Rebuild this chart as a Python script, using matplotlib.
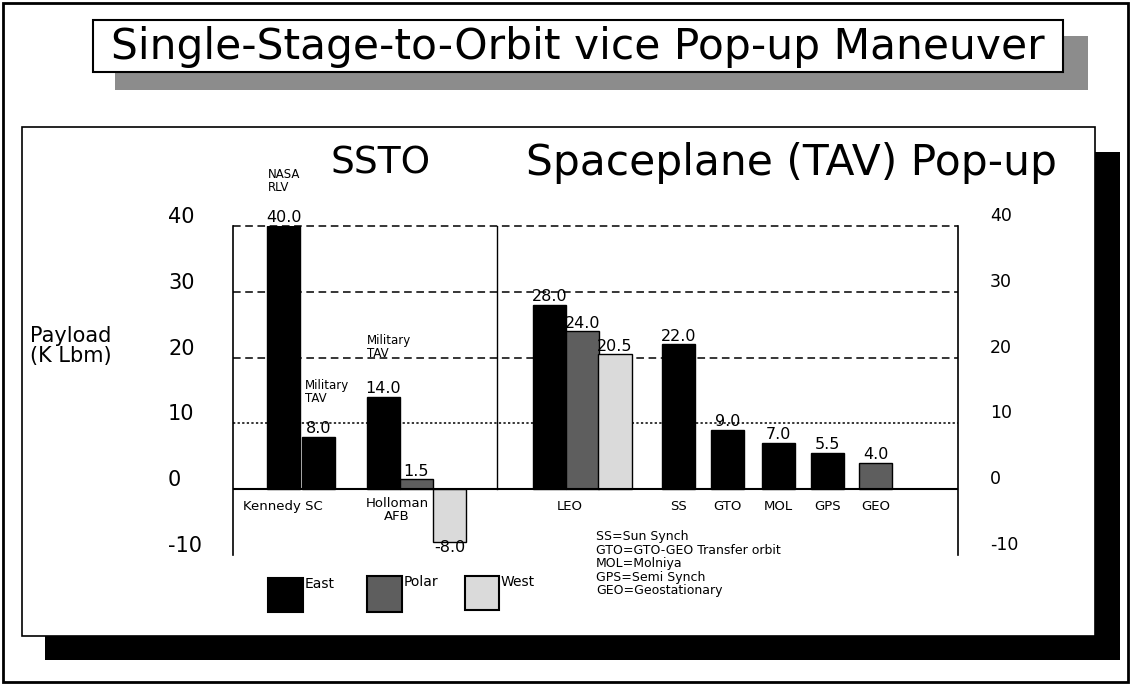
import matplotlib
matplotlib.use("Agg")
import matplotlib.pyplot as plt
from matplotlib.patches import Rectangle
from matplotlib.transforms import offset_copy

plt.rcParams['font.family'] = ['DejaVu Sans']

# Data (K Lbm payload)
series_names = ['East', 'Polar', 'West']
series_colors = {'East': '#000000', 'Polar': '#5e5e5e', 'West': '#dadada'}

kennedy_series = ['East', 'East']          # NASA RLV, Military TAV
kennedy_payload = [40.0, 8.0]
holloman_series = ['East', 'Polar', 'West']
holloman_payload = [14.0, 1.5, -8.0]
leo_series = ['East', 'Polar', 'West']
leo_payload = [28.0, 24.0, 20.5]
orbits = ['SS', 'GTO', 'MOL', 'GPS', 'GEO']
orbit_series = ['East', 'East', 'East', 'East', 'Polar']
orbit_payload = [22.0, 9.0, 7.0, 5.5, 4.0]

y_ticks = [40, 30, 20, 10, 0, -10]
footnote = ["SS=Sun Synch", "GTO=GTO-GEO Transfer orbit", "MOL=Molniya",
            "GPS=Semi Synch", "GEO=Geostationary"]

# layout (bar left edges in slot units)
kennedy_x = [1.02, 2.07]
holloman_x = [4.02, 5.0, 6.0]
leo_x = [9.0, 10.0, 10.97]
orbit_x = [12.88, 14.35, 15.89, 17.36, 18.8]
bar_w = 1.0

W, H = 1132, 685
fig = plt.figure(figsize=(W / 100, H / 100), dpi=100)

# background / decoration axes in pixel coords
bg = fig.add_axes([0, 0, 1, 1], zorder=0)
bg.set_xlim(0, W)
bg.set_ylim(H, 0)
bg.axis('off')

bg.add_patch(Rectangle((3, 3), 1125, 679, fill=False, ec='black', lw=2))
# title box with shadow
bg.add_patch(Rectangle((115, 36), 973, 54, fc='#8c8c8c', ec='none'))
bg.add_patch(Rectangle((93, 20), 970, 52, fc='white', ec='black', lw=1.5))
bg.text(578, 47, 'Single-Stage-to-Orbit vice Pop-up Maneuver',
        fontsize=30.5, ha='center', va='center')
# main panel with shadow
bg.add_patch(Rectangle((45, 152), 1075, 508, fc='black', ec='none'))
bg.add_patch(Rectangle((22, 127), 1073, 509, fc='white', ec='black', lw=1.2))

bg.text(381, 163, 'SSTO', fontsize=27, ha='center', va='center')
bg.text(791, 163, 'Spaceplane (TAV) Pop-up', fontsize=30.5, ha='center',
        va='center')
bg.text(30, 346, 'Payload\n(K Lbm)', fontsize=15, ha='left', va='center',
        linespacing=0.95)

bg.text(596, 530, '\n'.join(footnote), fontsize=9, ha='left', va='top',
        linespacing=1.05)

# legend squares
leg_boxes = {'East': (268, 578, 35, 34), 'Polar': (367, 576, 35, 36),
             'West': (465, 576, 34, 34)}
for name in series_names:
    x0, y0, w, h = leg_boxes[name]
    bg.add_patch(Rectangle((x0, y0), w, h, fc=series_colors[name],
                           ec='black', lw=1.5))
    bg.text(x0 + w + 2, y0 + 6, name, fontsize=10, ha='left', va='center')

# main chart axes
ax = fig.add_axes([233 / W, 1 - 555 / H, (958 - 233) / W, (555 - 226) / H],
                  zorder=1)
ax.set_facecolor('none')
ax.set_xlim(0, (958 - 233) / 33.3)
ax.set_ylim(-10, 40)
for s in ['top', 'bottom']:
    ax.spines[s].set_visible(False)
for s in ['left', 'right']:
    ax.spines[s].set_linewidth(1.2)
ax.set_xticks([])
ax.set_yticks([])

for v in [40, 30, 20]:
    ax.axhline(v, color='black', lw=1.1, ls=(0, (5, 3)), zorder=1,
               clip_on=False)
ax.axhline(10, color='black', lw=1.1, ls=(0, (1.5, 1.5)), zorder=1)
ax.axhline(0, color='black', lw=1.5, zorder=3)
ax.plot([7.93, 7.93], [0, 40], color='black', lw=1.0, zorder=1)


def draw_bars(xs, vals, series):
    for x, v, s in zip(xs, vals, series):
        ax.bar(x, v, width=bar_w, align='edge', color=series_colors[s],
               edgecolor='black', lw=1.0, zorder=2)
        lbl = f'{v:.1f}'
        if v >= 0:
            ax.text(x + bar_w / 2, v + 0.1, lbl, ha='center', va='bottom',
                    fontsize=11.5, zorder=4)
        else:
            ax.text(x + bar_w / 2, v + 0.3, lbl, ha='center', va='top',
                    fontsize=11.5, zorder=4)


draw_bars(kennedy_x, kennedy_payload, kennedy_series)
draw_bars(holloman_x, holloman_payload, holloman_series)
draw_bars(leo_x, leo_payload, leo_series)
draw_bars(orbit_x, orbit_payload, orbit_series)

# category labels
ax.text(1.5, -1.6, 'Kennedy SC', fontsize=9.5, ha='center', va='top')
ax.text(4.92, -1.2, 'Holloman\nAFB', fontsize=9.5, ha='center', va='top',
        linespacing=0.95)
ax.text(10.1, -1.6, 'LEO', fontsize=9.5, ha='center', va='top')
for x, name in zip(orbit_x, orbits):
    ax.text(x + bar_w / 2, -1.6, name, fontsize=9.5, ha='center', va='top')

# annotations
ax.text(1.05, 46.8, 'NASA\nRLV', fontsize=8.5, ha='left', va='center',
        linespacing=1.0, clip_on=False)
ax.text(2.16, 14.8, 'Military\nTAV', fontsize=8.5, ha='left', va='center',
        linespacing=0.95)
ax.text(4.02, 21.6, 'Military\nTAV', fontsize=8.5, ha='left', va='center',
        linespacing=0.95)

# y tick labels, drawn slightly above their grid lines as in the source
left_tr = offset_copy(ax.get_yaxis_transform(), fig=fig, x=-65, y=9, units='dots')
right_tr = offset_copy(ax.get_yaxis_transform(), fig=fig, x=32, y=10, units='dots')
for v in y_ticks:
    ax.text(0, v, str(v), transform=left_tr, fontsize=15, ha='left',
            va='center', clip_on=False)
    ax.text(1, v, str(v), transform=right_tr, fontsize=12.5, ha='left',
            va='center', clip_on=False)

fig.savefig('out.png', dpi=100)
